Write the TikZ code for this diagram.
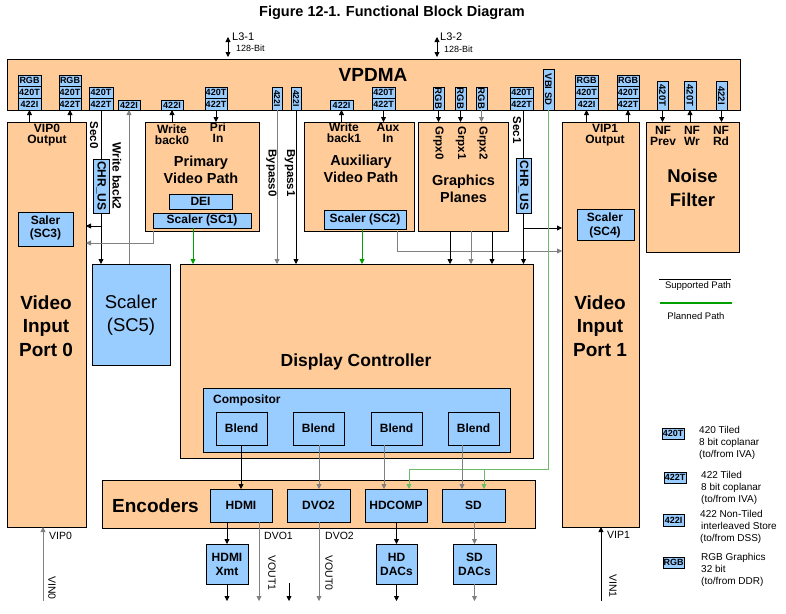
\documentclass[tikz,border=0pt]{standalone}
\usepackage{fontspec}
\setmainfont{Liberation Sans}
\usetikzlibrary{arrows.meta}
\definecolor{peach}{HTML}{FFCC99}
\definecolor{lblue}{HTML}{99CCFF}
\definecolor{dgreen}{HTML}{00A000}
\definecolor{lgreen}{HTML}{6CBC6C}
\definecolor{lgray}{HTML}{808080}
\newcommand\bx[7]{\node[#1, anchor=north west, inner sep=0pt, outer sep=0pt, minimum width={(#5-#3)*1pt}, minimum height={(#6-#4)*1pt}] (#2) at (#3,#4) {#7};}
\begin{document}
\begin{tikzpicture}[x=1pt,y=-1pt,
  ob/.style={draw, fill=peach, line width=0.9pt},
  bb/.style={draw, fill=lblue, line width=0.9pt},
  fm/.style={draw, fill=lblue, line width=0.8pt, font=\fontsize{9}{9}\selectfont\bfseries},
  fr/.style={fm, font=\fontsize{9.5}{9.5}\selectfont\bfseries},
  fn/.style={fm, font=\fontsize{8.5}{8.5}\selectfont\bfseries},
  lb/.style={font=\fontsize{12}{11}\selectfont\bfseries, align=center, inner sep=0pt},
  lbb/.style={font=\fontsize{12}{14}\selectfont\bfseries, align=center, inner sep=0pt},
  rl/.style={font=\fontsize{11.5}{11}\selectfont\bfseries, inner sep=0pt, rotate=-90},
  big/.style={font=\fontsize{19}{23.5}\selectfont\bfseries, align=center, inner sep=0pt},
  mid/.style={font=\fontsize{14.5}{17}\selectfont\bfseries, align=center, inner sep=0pt},
  sm/.style={font=\fontsize{10.5}{12}\selectfont, inner sep=0pt},
  lg/.style={font=\fontsize{10}{11.7}\selectfont, align=left, inner sep=0pt, anchor=west},
  ln/.style={line width=0.8pt},
  pln/.style={line width=1.2pt, draw=dgreen},
  ar/.style={-{Triangle[length=5pt,width=5pt]}, line width=0.8pt},
  dar/.style={{Triangle[length=5pt,width=5pt]}-{Triangle[length=5pt,width=5pt]}, line width=0.8pt},
  gar/.style={ar, lgray},
  grar/.style={ar, dgreen},
  glar/.style={ar, lgreen}]
\useasboundingbox (0,0) rectangle (786,613);

% ---------- title ----------
\node[font=\fontsize{14.5}{16}\selectfont\bfseries] (title) at (392,13) {Figure 12-1. Functional Block Diagram};

% ---------- boxes ----------
\bx{ob}{vpdma}{7}{59}{740}{110}{}
\node[font=\fontsize{19}{20}\selectfont\bfseries] (tvp) at (373,75) {VPDMA};

% format stacks
\bx{fm}{s1a}{18}{75}{41}{86.7}{RGB}
\bx{fm}{s1b}{18}{86.7}{41}{98.3}{420T}
\bx{fm}{s1}{18}{98.3}{41}{110}{422I}
\bx{fm}{s2a}{59}{75}{81}{86.7}{RGB}
\bx{fm}{s2b}{59}{86.7}{81}{98.3}{420T}
\bx{fm}{s2}{59}{98.3}{81}{110}{422T}
\bx{fm}{s3a}{89}{87}{113}{98.5}{420T}
\bx{fm}{s3}{89}{98.5}{113}{110}{422T}
\bx{fm}{s4}{118}{100}{140}{110}{422I}
\bx{fm}{s5}{161}{100}{183}{110}{422I}
\bx{fm}{s6a}{205}{87}{227}{98.5}{420T}
\bx{fm}{s6}{205}{98.5}{227}{110}{422T}
\bx{fn}{r1}{272}{87}{282}{110}{\rotatebox{-90}{422I}}
\bx{fn}{r2}{291}{87}{301}{110}{\rotatebox{-90}{422I}}
\bx{fm}{s7}{330}{100}{353}{110}{422I}
\bx{fm}{s8a}{372}{87}{395}{98.5}{420T}
\bx{fm}{s8}{372}{98.5}{395}{110}{422T}
\bx{fr}{g1}{433}{87}{444}{110}{\rotatebox{-90}{RGB}}
\bx{fr}{g2}{455}{87}{466}{110}{\rotatebox{-90}{RGB}}
\bx{fr}{g3}{476}{87}{487}{110}{\rotatebox{-90}{RGB}}
\bx{fm}{s9a}{510}{87}{533}{98.5}{420T}
\bx{fm}{s9}{510}{98.5}{533}{110}{422T}
\bx{fr}{vbi}{543}{69}{554}{110}{\rotatebox{-90}{VBI SD}}
\bx{fm}{s10a}{575}{75}{598}{86.7}{RGB}
\bx{fm}{s10b}{575}{86.7}{598}{98.3}{420T}
\bx{fm}{s10}{575}{98.3}{598}{110}{422I}
\bx{fm}{s11a}{617}{75}{639}{86.7}{RGB}
\bx{fm}{s11b}{617}{86.7}{639}{98.3}{420T}
\bx{fm}{s11}{617}{98.3}{639}{110}{422T}
\bx{fr}{n1}{657}{81}{668}{110}{\rotatebox{-90}{420T}}
\bx{fr}{n2}{684}{81}{696}{110}{\rotatebox{-90}{420T}}
\bx{fr}{n3}{716}{81}{727}{110}{\rotatebox{-90}{422I}}

% VIP0
\bx{ob}{vip0}{7}{122}{86}{527}{}
\node[lb] (tvip0) at (47,135) {VIP0\\Output};
\bx{bb}{sc3}{18}{212}{73}{246}{}
\node[lbb,font=\fontsize{12}{13}\selectfont\bfseries] (tsc3) at (45.5,228) {Saler\\(SC3)};
\node[big] (tvip0b) at (46,326) {Video\\Input\\Port 0};

\bx{bb,lb}{chr0}{93}{159}{109}{213}{\rotatebox{-90}{CHR\_US}}
\node[rl] (tsec0) at (94,135) {Sec0};
\node[rl,font=\fontsize{12}{11}\selectfont\bfseries] (twb2) at (117,176) {Write back2};

\bx{bb}{sc5}{92}{264}{170}{365}{}
\node[font=\fontsize{18.5}{23.5}\selectfont, align=center, inner sep=0pt] (tsc5) at (131,315) {Scaler\\(SC5)};

% primary
\bx{ob}{pvp}{145}{122}{259}{231}{}
\node[lb] (twb0) at (172,134.5) {Write\\back0};
\node[lb] (tpri) at (218,133) {Pri\\In};
\node[mid] (tpvp) at (201,170) {Primary\\Video Path};
\bx{bb,lb}{dei}{169}{194}{232}{209}{DEI}
\bx{bb,lb}{sc1}{153}{213}{251}{228}{Scaler (SC1)}

\node[rl] (tby0) at (271.5,173) {Bypass0};
\node[rl] (tby1) at (290,173) {Bypass1};

% auxiliary
\bx{ob}{avp}{304}{122}{414}{231}{}
\node[lb] (twb1) at (344,132.5) {Write\\back1};
\node[lb] (taux) at (388,132.5) {Aux\\In};
\node[mid] (tavp) at (361,169) {Auxiliary\\Video Path};
\bx{bb,lb}{sc2}{324}{210}{406}{229}{Scaler (SC2)}

% graphics
\bx{ob}{gp}{418}{122}{508}{231}{}
\node[rl] (tg0) at (438.5,143) {Grpx0};
\node[rl] (tg1) at (461,143) {Grpx1};
\node[rl] (tg2) at (482.5,143) {Grpx2};
\node[mid] (tgp) at (463.5,189) {Graphics\\Planes};

\bx{bb,lb}{chr1}{516}{158}{531}{213}{\rotatebox{-90}{CHR\_US}}
\node[rl] (tsec1) at (517,130) {Sec1};

% VIP1
\bx{ob}{vip1}{562}{122}{639}{527}{}
\node[lb] (tvip1) at (605,135) {VIP1\\Output};
\bx{bb}{sc4}{577}{209}{634}{240}{}
\node[lbb,font=\fontsize{12}{14.5}\selectfont\bfseries] (tsc4) at (605,225.5) {Scaler\\(SC4)};
\node[big] (tvip1b) at (600,326) {Video\\Input\\Port 1};

% noise filter
\bx{ob}{nf}{646}{122}{739}{252}{}
\node[lb] (tnf1) at (663,136) {NF\\Prev};
\node[lb] (tnf2) at (692,136) {NF\\Wr};
\node[lb] (tnf3) at (721,136) {NF\\Rd};
\node[font=\fontsize{18.5}{24}\selectfont\bfseries, align=center, inner sep=0pt] (tnf) at (692.5,188) {Noise\\Filter};

% legend lines
\coordinate (la1) at (659,279);
\coordinate (la2) at (731,279);
\draw[ln] (la1) -- (la2);
\node[font=\fontsize{9.5}{11}\selectfont, inner sep=0pt] (tsup) at (698,286) {Supported Path};
\coordinate (lgA) at (660,303);
\coordinate (lgB) at (732,303);
\draw[pln] (lgA) -- (lgB);
\node[font=\fontsize{9.5}{11}\selectfont, inner sep=0pt] (tpla) at (696,316) {Planned Path};

% display controller
\bx{ob}{dc}{180}{264}{533}{458}{}
\node[font=\fontsize{17.5}{20}\selectfont\bfseries, inner sep=0pt] (tdc) at (356,362) {Display Controller};
\bx{bb}{comp}{203}{388}{510}{452}{}
\node[font=\fontsize{12}{12}\selectfont\bfseries, inner sep=0pt, anchor=west] (tcomp) at (213,400) {Compositor};
\bx{bb,lb}{b1}{216}{412}{267}{445}{Blend}
\bx{bb,lb}{b2}{293}{412}{344}{445}{Blend}
\bx{bb,lb}{b3}{371}{412}{422}{445}{Blend}
\bx{bb,lb}{b4}{448}{412}{499}{445}{Blend}

% encoders
\bx{ob}{enc}{102}{480}{535}{528}{}
\node[font=\fontsize{19}{20}\selectfont\bfseries, inner sep=0pt] (tenc) at (155.5,506) {Encoders};
\bx{bb,lb}{hdmi}{210}{489}{272}{522}{HDMI}
\bx{bb,lb}{dvo2}{287}{489}{350}{522}{DVO2}
\bx{bb,lb}{hdcomp}{365}{489}{427}{522}{HDCOMP}
\bx{bb,lb}{sd}{442}{489}{505}{522}{SD}
\bx{bb,lbb}{hx}{206}{544}{248}{584}{HDMI\\Xmt}
\bx{bb,lbb}{hdd}{376}{544}{417}{584}{HD\\DACs}
\bx{bb,lbb}{sdd}{453}{544}{496}{584}{SD\\DACs}

\node[sm, anchor=west] (tdvo1) at (264,536) {DVO1};
\node[sm, anchor=west] (tdvo2) at (325,536) {DVO2};
\node[sm, rotate=-90] (tvout1) at (272,573) {VOUT1};
\node[sm, rotate=-90] (tvout0) at (329,573) {VOUT0};
\node[sm, anchor=west] (tvip0in) at (49,536) {VIP0};
\node[sm, rotate=-90] (tvin0) at (52,588) {VIN0};
\node[sm, anchor=west] (tvip1in) at (607,535) {VIP1};
\node[sm, rotate=-90] (tvin1) at (613,586) {VIN1};

% legend keys
\bx{fm}{k1}{662}{428}{684}{439}{420T}
\bx{fm}{k2}{664}{472}{686}{483}{422T}
\bx{fm}{k3}{663}{514}{684}{526}{422I}
\bx{fm}{k4}{663}{557}{684}{568}{RGB}
\node[lg] (kt1) at (699,443) {420 Tiled\\8 bit coplanar\\(to/from IVA)};
\node[lg] (kt2) at (701,488) {422 Tiled\\8 bit coplanar\\(to/from IVA)};
\node[lg] (kt3) at (700,527) {422 Non-Tiled\\\hspace{1pt}interleaved Store\\(to/from DSS)};
\node[lg] (kt4) at (701,570) {RGB Graphics\\32 bit\\(to/from DDR)};

% L3 ports
\coordinate (l1) at (228,37);
\draw[dar, shorten >=2pt] (l1) -- (l1 |- vpdma.north);
\node[font=\fontsize{11}{12}\selectfont, inner sep=0pt, anchor=west] (tl31) at (232,37) {L3-1};
\node[font=\fontsize{9}{10}\selectfont, inner sep=0pt, anchor=west] (tl31b) at (236,48) {128-Bit};
\coordinate (l2) at (437,37);
\draw[dar, shorten >=2pt] (l2) -- (l2 |- vpdma.north);
\node[font=\fontsize{11}{12}\selectfont, inner sep=0pt, anchor=west] (tl32) at (440,37) {L3-2};
\node[font=\fontsize{9}{10}\selectfont, inner sep=0pt, anchor=west] (tl32b) at (444,49) {128-Bit};

% ---------- connectors ----------
\draw[ar] (s1.south |- vip0.north) -- (s1.south);
\draw[ar] (s2.south |- vip0.north) -- (s2.south);
\draw[ln] (chr0.north |- s3.south) -- (chr0.north);
\draw[ar] (chr0.south) -- (chr0.south |- sc5.north);
\coordinate (j0) at (101,226);
\draw[ar] (j0) -- (j0 -| vip0.east);
\draw[gar] (s4.south |- sc5.north) -- (s4.south);
\draw[ar] (s5.south |- pvp.north) -- (s5.south);
\draw[ar] (s6.south) -- (s6.south |- pvp.north);
\coordinate (p0) at (153,243);
\draw[gar] (p0 |- pvp.south) -- (p0) -- (p0 -| vip0.east);
\coordinate (q1) at (193,246);
\draw[grar] (q1 |- sc1.south) -- (q1 |- dc.north);
\draw[gar] (r1.south) -- (r1.south |- dc.north);
\draw[ar] (r2.south) -- (r2.south |- dc.north);
\draw[ar] (s7.south |- avp.north) -- (s7.south);
\draw[ar] (s8.south) -- (s8.south |- avp.north);
\coordinate (q2) at (362,246);
\draw[grar] (q2 |- sc2.south) -- (q2 |- dc.north);
\coordinate (p1) at (397,251);
\draw[gar] (p1 |- avp.south) -- (p1) -- (p1 -| vip1.west);
\draw[ar] (g1.south) -- (g1.south |- gp.north);
\draw[ar] (g2.south) -- (g2.south |- gp.north);
\draw[gar] (g3.south) -- (g3.south |- gp.north);
\coordinate (q3) at (450,246);
\coordinate (q4) at (471,246);
\coordinate (q5) at (492,246);
\draw[ar] (q3 |- gp.south) -- (q3 |- dc.north);
\draw[gar] (q4 |- gp.south) -- (q4 |- dc.north);
\draw[ar] (q5 |- gp.south) -- (q5 |- dc.north);
\draw[ln] (chr1.north |- s9.south) -- (chr1.north);
\draw[ar] (chr1.south) -- (chr1.south |- dc.north);
\coordinate (j1) at (523.5,228);
\draw[ar] (j1) -- (j1 -| vip1.west);
\coordinate (v1) at (409,469);
\coordinate (v2) at (484,469);
\draw[glar] (vbi.south) |- (v1) -- (v1 |- hdcomp.north);
\draw[glar] (v2) -- (v2 |- sd.north);
\draw[ar] (s10.south |- vip1.north) -- (s10.south);
\draw[ar] (s11.south |- vip1.north) -- (s11.south);
\draw[ar] (n1.south) -- (n1.south |- nf.north);
\draw[ar] (n2.south |- nf.north) -- (n2.south);
\draw[ar] (n3.south) -- (n3.south |- nf.north);
\coordinate (e1) at (241,470);
\coordinate (e2) at (319,470);
\coordinate (e3) at (384,470);
\coordinate (e4) at (462,470);
\draw[ar] (e1 |- b1.south) -- (e1 |- hdmi.north);
\draw[gar] (e2 |- b2.south) -- (e2 |- dvo2.north);
\draw[gar] (e3 |- b3.south) -- (e3 |- hdcomp.north);
\draw[gar] (e4 |- b4.south) -- (e4 |- sd.north);
\draw[ar] (hx.north |- hdmi.south) -- (hx.north);
\coordinate (o1) at (227,601);
\draw[ar] (hx.south) -- (o1);
\coordinate (o2) at (259,601);
\draw[gar] (o2 |- hdmi.south) -- (o2);
\coordinate (o3a) at (289,583);
\coordinate (o3b) at (289,601);
\draw[ar] (o3a) -- (o3b);
\coordinate (o4) at (319,601);
\draw[gar] (o4 |- dvo2.south) -- (o4);
\draw[ar] (hdd.north |- hdcomp.south) -- (hdd.north);
\coordinate (o5) at (396.5,601);
\draw[ar] (hdd.south) -- (o5);
\draw[gar] (sdd.north |- sd.south) -- (sdd.north);
\coordinate (o6) at (474.5,601);
\draw[gar] (sdd.south) -- (o6);
\coordinate (i0) at (43,601);
\draw[gar] (i0) -- (i0 |- vip0.south);
\coordinate (i1) at (601,601);
\draw[ar] (i1) -- (i1 |- vip1.south);
\end{tikzpicture}
\end{document}
